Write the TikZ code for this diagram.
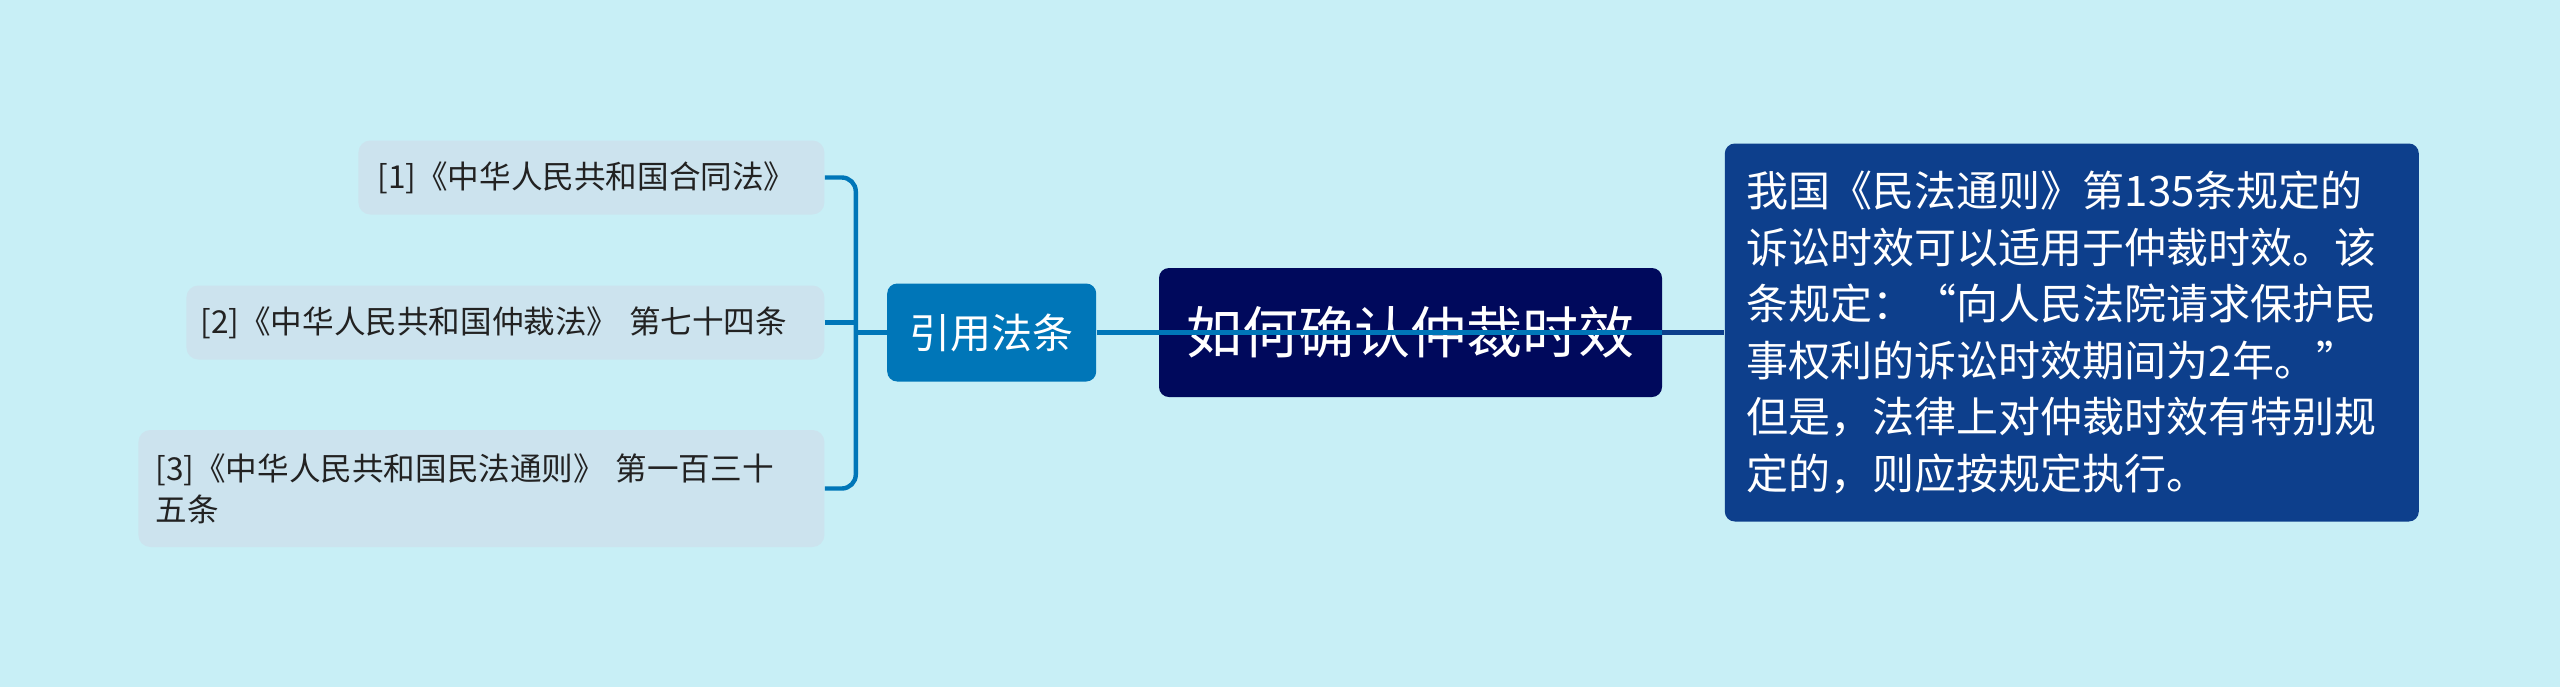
\documentclass[tikz,border=0pt]{standalone}
\usepackage{fontspec}
\newfontfamily\cjk{Noto Sans CJK SC}
\usepackage{xcolor}
\usepackage{tikz}
\usetikzlibrary{backgrounds,calc,positioning}

\definecolor{skyback}{RGB}{200,239,246}
\definecolor{leafgray}{RGB}{204,227,238}
\definecolor{citeblue}{RGB}{0,118,184}
\definecolor{topicnavy}{RGB}{0,9,92}
\definecolor{noteblue}{RGB}{13,63,140}
\definecolor{inkgray}{RGB}{34,34,34}

\begin{document}
\begin{tikzpicture} [x=0.5pt, y=-0.5pt, node distance=31pt,
	leaf/.style={rectangle, rounded corners=6pt, fill=leafgray, text=inkgray, align=left, inner xsep=9.5pt, minimum height=37pt, font=\cjk\fontsize{15.8pt}{20.5pt}\selectfont},
	citebox/.style={rectangle, rounded corners=5pt, fill=citeblue, text=white, minimum width=104.5pt, minimum height=49pt, font=\cjk\fontsize{20.5pt}{24pt}\selectfont},
	topicbox/.style={rectangle, rounded corners=5pt, fill=topicnavy, text=white, minimum width=251.5pt, minimum height=64.5pt, font=\cjk\fontsize{28pt}{34pt}\selectfont},
	notebox/.style={rectangle, rounded corners=5pt, fill=noteblue, text=white, align=left, text width=325pt, inner xsep=11pt, minimum height=189pt, font=\cjk\fontsize{21pt}{28.3pt}\selectfont},
	link/.style={line width=2.2pt, citeblue}]
	 	
	 	\node (T) [topicbox] at (1410.5,332.5) {如何确认仲裁时效};
	 	
	 	\node (C) [citebox, left=of T] {引用法条};
	 	
	 	\node (N) [notebox, right=of T] {我国《民法通则》第135条规定的\\诉讼时效可以适用于仲裁时效。该\\条规定：“向人民法院请求保护民\\事权利的诉讼时效期间为2年。”\\但是，法律上对仲裁时效有特别规\\定的，则应按规定执行。};
	 	
	 	\node (L_1) [leaf, text width=214pt, left=of C, yshift=77.5pt] {[1]《中华人民共和国合同法》};
	 	
	 	\node (L_2) [leaf, text width=305pt, inner xsep=7pt, left=of C, yshift=5pt] {[2]《中华人民共和国仲裁法》 第七十四条};
	 	
	 	\node (L_3) [leaf, text width=326pt, inner xsep=8.5pt, minimum height=58.5pt, left=of C, yshift=-78pt] {[3]《中华人民共和国民法通则》 第一百三十\\五条};
	 	
	 	\coordinate (trunk) at ($(C.west) + (-31,0)$);
	 	
	 	
	 	\draw [link] (C.west) -- (trunk);
	 	
	 	\draw [link, rounded corners=7pt] (L_1.east) -| (trunk |- L_3.east) -- (L_3.east);
	 	
	 	\draw [link] (L_2.east) -- (L_2.east -| trunk);
	 	
	 	\draw [link] (C.east) -- (T.east);
	 	
	 	\draw [link, noteblue] (T.east) -- (N.west);
	 	
	 	
	 	\begin{pgfonlayer}{background}
	 	
	 	\fill [skyback] (0,0) rectangle (2560,687);
	 	
	 	\end{pgfonlayer}
	 	
\end{tikzpicture}
\end{document}
